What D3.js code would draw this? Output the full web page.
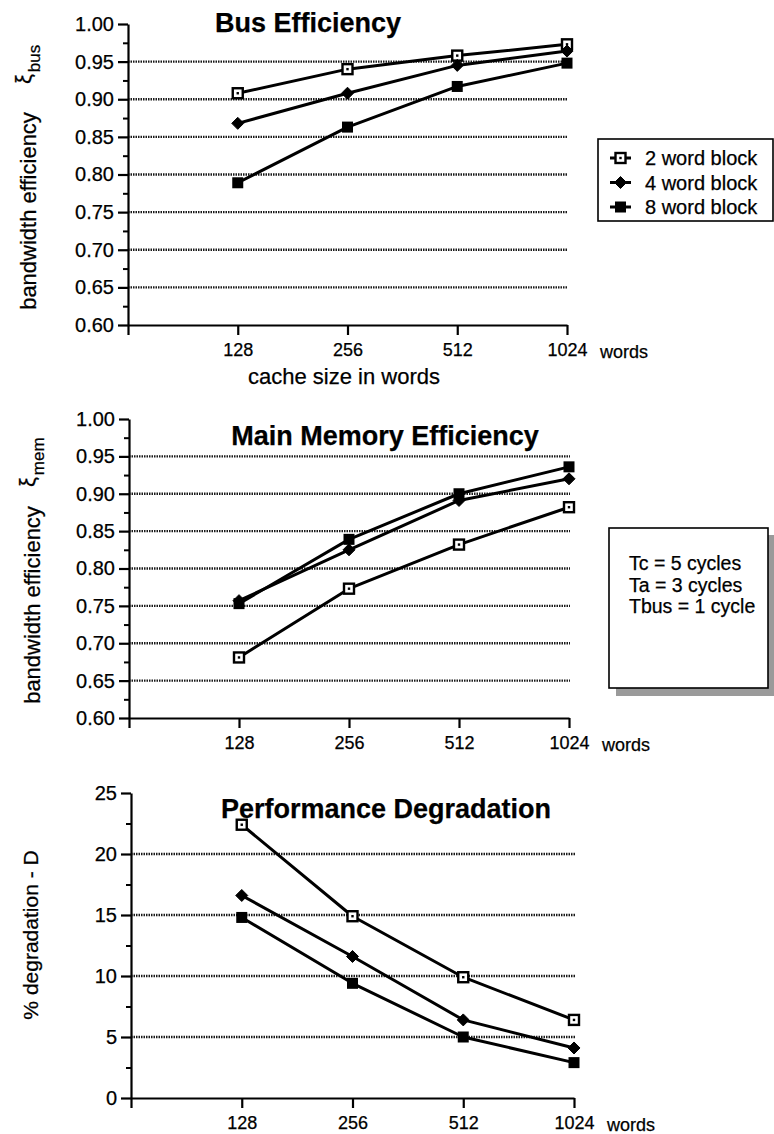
<!DOCTYPE html>
<html>
<head>
<meta charset="utf-8">
<script src="https://cdn.jsdelivr.net/npm/d3@7/dist/d3.min.js"></script>
<style>
  html, body { margin: 0; padding: 0; background: #fff; }
  svg { display: block; font-family: "Liberation Sans", Arial, Helvetica, sans-serif; }
  svg text { stroke: #000; stroke-width: 0.25px; }
</style>
</head>
<body>
<svg id="chart" width="774" height="1134"></svg>
<script>
// Cache sizes (words) on the x axis and their tick labels
const cacheSizes = [128, 256, 512, 1024];
const cacheLabels = ["128", "256", "512", "1024"];
const seriesNames = ["2 word block", "4 word block", "8 word block"];

// Bus efficiency  ξbus
const bus2 = [0.908, 0.940, 0.958, 0.973];
const bus4 = [0.868, 0.908, 0.945, 0.964];
const bus8 = [0.789, 0.863, 0.917, 0.948];

// Main memory efficiency  ξmem
const mem2 = [0.681, 0.773, 0.832, 0.882];
const mem4 = [0.757, 0.825, 0.891, 0.920];
const mem8 = [0.753, 0.839, 0.900, 0.936];

// Performance degradation D (%)
const deg2 = [22.4, 14.9, 9.9, 6.4];
const deg4 = [16.6, 11.6, 6.4, 4.1];
const deg8 = [14.8, 9.4, 5.0, 2.9];

// Axis ticks
const effTicks = [0.60, 0.65, 0.70, 0.75, 0.80, 0.85, 0.90, 0.95, 1.00];
const effGrid = [0.65, 0.70, 0.75, 0.80, 0.85, 0.90, 0.95];
const effMinor = [0.625, 0.675, 0.725, 0.775, 0.825, 0.875, 0.925, 0.975];
const degTicks = [0, 5, 10, 15, 20, 25];
const degGrid = [5, 10, 15, 20];
const degMinor = [2.5, 7.5, 12.5, 17.5, 22.5];

// Textbox parameters
const timingLines = ["Tc = 5 cycles", "Ta = 3 cycles", "Tbus = 1 cycle"];

const svg = d3.select("#chart");
const FONT = '"Liberation Sans", Arial, Helvetica, sans-serif';

// Marker drawing per series: open square with dot, filled diamond, filled square
function drawMarker(g, kind, cx, cy) {
  if (kind === 0) {
    g.append("rect").attr("x", cx - 5).attr("y", cy - 5).attr("width", 10).attr("height", 10)
      .attr("fill", "#fff").attr("stroke", "#000").attr("stroke-width", 2.4);
    g.append("rect").attr("x", cx - 1.2).attr("y", cy - 1.2).attr("width", 2.4).attr("height", 2.4).attr("fill", "#000");
  } else if (kind === 1) {
    g.append("path").attr("d", `M${cx},${cy - 6}L${cx + 6},${cy}L${cx},${cy + 6}L${cx - 6},${cy}Z`)
      .attr("fill", "#000").attr("stroke", "#000").attr("stroke-width", 1).attr("stroke-linejoin", "round");
  } else {
    g.append("rect").attr("x", cx - 5.5).attr("y", cy - 5.5).attr("width", 11).attr("height", 11).attr("fill", "#000");
  }
}

function panel(cfg) {
  const g = svg.append("g");
  const x = d3.scaleLog().base(2).domain([64, 1024]).range(cfg.xRange);
  const y = d3.scaleLinear().domain(cfg.yDomain).range(cfg.yRange);

  // dotted grid lines
  g.append("g").selectAll("line").data(cfg.grid).join("line")
    .attr("x1", x(64)).attr("x2", x(1024) + 1)
    .attr("y1", d => y(d)).attr("y2", d => y(d))
    .attr("stroke", "#1a1a1a").attr("stroke-width", 2.4).attr("stroke-dasharray", "1.5,1");

  // y axis, major ticks with labels
  const yAxis = g.append("g").attr("transform", `translate(${x(64)},0)`)
    .call(d3.axisLeft(y).tickValues(cfg.yTicks).tickSize(10).tickSizeOuter(0).tickPadding(4).tickFormat(cfg.yFormat));
  yAxis.select(".domain").attr("stroke-width", 2.2);
  yAxis.selectAll(".tick line").attr("stroke-width", 2.2);
  yAxis.selectAll("text").attr("font-size", 20).attr("font-family", FONT).attr("fill", "#000");

  // y axis minor ticks
  g.append("g").attr("transform", `translate(${x(64)},0)`)
    .call(d3.axisLeft(y).tickValues(cfg.yMinor).tickSize(5).tickFormat(""))
    .call(a => a.select(".domain").remove())
    .selectAll(".tick line").attr("stroke-width", 2);

  // x axis
  const xAxis = g.append("g").attr("transform", `translate(0,${cfg.yRange[0]})`)
    .call(d3.axisBottom(x).tickValues([64].concat(cacheSizes)).tickSize(10).tickSizeOuter(0).tickPadding(8)
      .tickFormat((d) => { const i = cacheSizes.indexOf(d); return i < 0 ? "" : cacheLabels[i]; }));
  xAxis.select(".domain").attr("stroke-width", 2.2);
  xAxis.selectAll(".tick line").attr("stroke-width", 2.2);
  xAxis.selectAll("text").attr("font-size", 18).attr("font-family", FONT).attr("fill", "#000");

  g.append("text").attr("x", x(1024) + 33).attr("y", cfg.yRange[0] + 33)
    .attr("font-size", 18).text("words");

  // series lines and markers
  cfg.series.forEach((vals, k) => {
    const pts = vals.map((v, i) => [x(cacheSizes[i]), y(v)]);
    g.append("path").attr("d", d3.line()(pts)).attr("fill", "none")
      .attr("stroke", "#000").attr("stroke-width", 3).attr("stroke-linejoin", "round");
    const mg = g.append("g");
    pts.forEach(p => drawMarker(mg, k, p[0], p[1]));
  });

  // title
  g.append("text").attr("x", cfg.titleX).attr("y", cfg.titleY).attr("text-anchor", "middle")
    .attr("font-size", 27).attr("font-weight", "bold").text(cfg.title);

  // rotated y label
  g.append("text").attr("transform", `translate(${cfg.labelX},${cfg.labelY}) rotate(-90)`)
    .attr("text-anchor", "middle").attr("font-size", cfg.labelSize).text(cfg.yLabel);
  if (cfg.sub) {
    const t = g.append("text").attr("transform", `translate(${cfg.labelX - 5},${cfg.subY}) rotate(-90)`)
      .attr("font-size", 22);
    t.append("tspan").text("ξ");
    t.append("tspan").attr("dy", 9).attr("dx", 2).attr("font-size", 17).text(cfg.sub);
  }
  return { x, y };
}

// Bus efficiency
panel({
  xRange: [128, 567], yDomain: [0.6, 1.0], yRange: [325, 24],
  yTicks: effTicks, yMinor: effMinor, grid: effGrid, yFormat: d3.format(".2f"),
  series: [bus2, bus4, bus8],
  title: "Bus Efficiency", titleX: 308, titleY: 32,
  yLabel: "bandwidth efficiency", labelSize: 22, labelX: 36, labelY: 211, sub: "bus", subY: 84
});
svg.append("text").attr("x", 344).attr("y", 384).attr("text-anchor", "middle")
  .attr("font-size", 22).text("cache size in words");

// Main memory efficiency
panel({
  xRange: [129, 569], yDomain: [0.6, 1.0], yRange: [718, 419],
  yTicks: effTicks, yMinor: effMinor, grid: effGrid, yFormat: d3.format(".2f"),
  series: [mem2, mem4, mem8],
  title: "Main Memory Efficiency", titleX: 385, titleY: 445,
  yLabel: "bandwidth efficiency", labelSize: 22, labelX: 40, labelY: 605, sub: "mem", subY: 487
});

// Performance degradation
panel({
  xRange: [131, 574], yDomain: [0, 25], yRange: [1098, 793],
  yTicks: degTicks, yMinor: degMinor, grid: degGrid, yFormat: d3.format("d"),
  series: [deg2, deg4, deg8],
  title: "Performance Degradation", titleX: 386, titleY: 818,
  yLabel: "% degradation - D", labelSize: 21, labelX: 38, labelY: 935
});

// Legend
const lg = svg.append("g");
lg.append("rect").attr("x", 598).attr("y", 139).attr("width", 175).attr("height", 82)
  .attr("fill", "#fff").attr("stroke", "#000").attr("stroke-width", 1.6);
seriesNames.forEach((name, k) => {
  const cy = 158 + k * 24.5;
  lg.append("line").attr("x1", 610).attr("x2", 631).attr("y1", cy).attr("y2", cy)
    .attr("stroke", "#000").attr("stroke-width", 3);
  drawMarker(lg, k, 620.5, cy);
  lg.append("text").attr("x", 645).attr("y", cy + 7).attr("font-size", 20).text(name);
});

// Timing parameters box with shadow
const tb = svg.append("g");
tb.append("rect").attr("x", 616).attr("y", 535).attr("width", 160).attr("height", 161).attr("fill", "#9a9a9a");
tb.append("rect").attr("x", 609).attr("y", 528).attr("width", 159).attr("height", 160)
  .attr("fill", "#fff").attr("stroke", "#000").attr("stroke-width", 1.6);
timingLines.forEach((s, i) => {
  tb.append("text").attr("x", 629).attr("y", 570 + i * 21.5).attr("font-size", 19.5).text(s);
});
</script>
</body>
</html>
